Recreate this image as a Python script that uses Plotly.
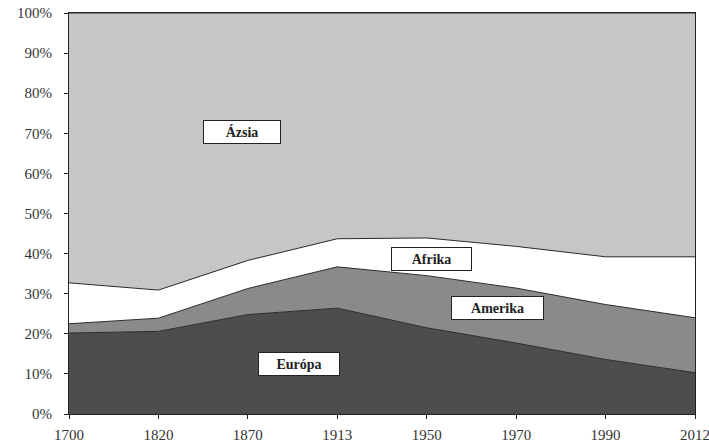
import plotly.graph_objects as go

# world GDP shares by region, per cent
years = ["1700", "1820", "1870", "1913", "1950", "1970", "1990", "2012"]
europa = [20.2, 20.6, 24.8, 26.4, 21.5, 17.7, 13.6, 10.3]
amerika = [2.3, 3.3, 6.5, 10.3, 13.0, 13.7, 13.7, 13.7]
afrika = [10.2, 7.0, 7.0, 7.0, 9.4, 10.4, 11.9, 15.2]
azsia = [67.3, 69.1, 61.7, 56.3, 56.1, 58.2, 60.8, 60.8]

series = [("Európa", europa, "#4d4d4d"),
          ("Amerika", amerika, "#8a8a8a"),
          ("Afrika", afrika, "#ffffff"),
          ("Ázsia", azsia, "#c6c6c6")]

fig = go.Figure()
for name, vals, col in series:
    fig.add_trace(go.Scatter(x=years, y=vals, name=name, mode="lines",
                             stackgroup="one", fillcolor=col,
                             line=dict(color="#2a2a2a", width=1)))

# label boxes: (text, x index, y %)
labels = [("Ázsia", 1.93, 70.4), ("Afrika", 4.05, 38.7),
          ("Amerika", 4.79, 26.5), ("Európa", 2.575, 12.5)]
widths = {"Ázsia": 72, "Afrika": 75, "Amerika": 87, "Európa": 76}
for txt, xx, yy in labels:
    fig.add_annotation(x=xx, y=yy, xref="x", yref="y", text="<b>%s</b>" % txt,
                       showarrow=False, bgcolor="white", bordercolor="#222",
                       borderwidth=1, borderpad=2, width=widths[txt], height=18,
                       font=dict(family="Liberation Serif", size=14, color="#222"))

fig.update_layout(
    width=709, height=444,
    margin=dict(l=69, r=14, t=13, b=30),
    plot_bgcolor="white", paper_bgcolor="white",
    showlegend=False,
    font=dict(family="Liberation Serif", size=15, color="#333"),
)
fig.update_xaxes(type="category", range=[0, 7], showline=True, linecolor="#222",
                 linewidth=1, mirror=True, ticks="outside", ticklen=4,
                 tickcolor="#222", showgrid=False, zeroline=False,
                 automargin=False, ticklabelstandoff=3)
fig.update_yaxes(range=[0, 100], ticksuffix="%", dtick=10, showline=True,
                 linecolor="#222", linewidth=1, mirror=True, ticks="outside",
                 ticklen=4, tickcolor="#222", showgrid=False, zeroline=False,
                 ticklabelstandoff=9, automargin=False)

# page body has a default margin, drop it so the chart sits at 0,0
fig.write_html("out.html", config={"displayModeBar": False},
               post_script="document.body.style.margin='0';")
